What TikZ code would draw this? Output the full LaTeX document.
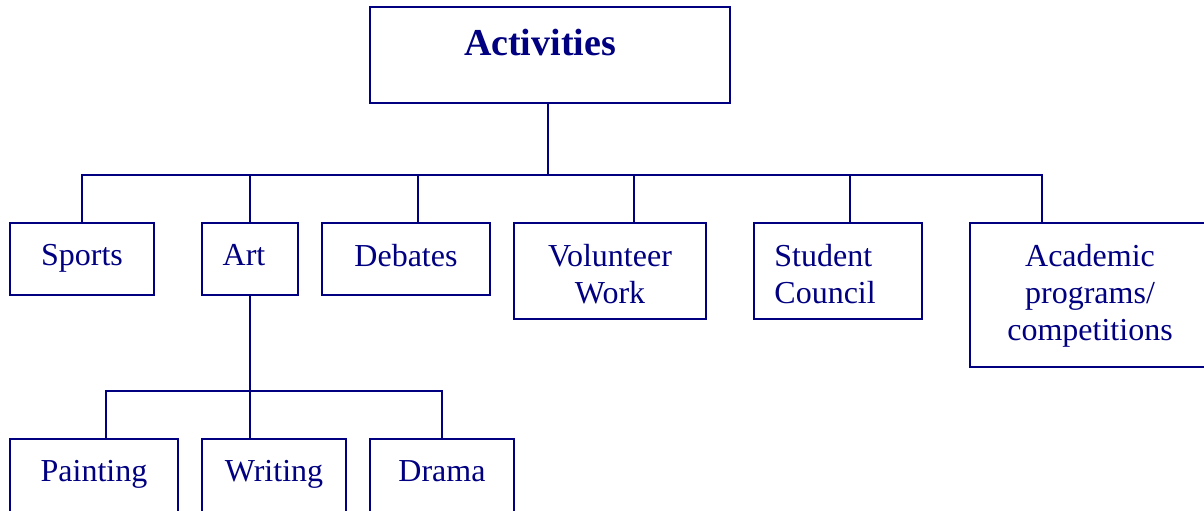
\documentclass[tikz,border=0pt]{standalone}
\usepackage{fontspec}
\setmainfont{Liberation Serif}
\usetikzlibrary{positioning}
\definecolor{navy}{RGB}{0,0,128}

\begin{document}
\begin{tikzpicture}[x=0.5pt, y=-0.5pt,
    box/.style={draw=navy, line width=1pt, inner sep=0pt},
    lbl/.style={text=navy, inner sep=0pt, align=center, font=\fontsize{16}{18.4}\selectfont},
    title/.style={text=navy, inner sep=0pt, font=\fontsize{19}{22}\selectfont\bfseries},
    link/.style={draw=navy, line width=1pt}]

    \useasboundingbox (0,0) rectangle (1204,510);
    \clip (0,0) rectangle (1204,510);

    % boxes
    \node[box, minimum width=180pt, minimum height=48pt] (act) at (550,55) {};
    \node[box, minimum width=72pt, minimum height=36pt] (sports) at (82,259) {};
    \node[box, minimum width=48pt, minimum height=36pt] (art) at (250,259) {};
    \node[box, minimum width=84pt, minimum height=36pt] (debates) at (406,259) {};
    \node[box, minimum width=96pt, minimum height=48pt] (volunteer) at (610,271) {};
    \node[box, minimum width=84pt, minimum height=48pt] (council) at (838,271) {};
    \node[box, minimum width=126pt, minimum height=72pt] (academic) at (1096,295) {};
    \node[box, minimum width=84pt, minimum height=37.5pt] (painting) at (94,476.5) {};
    \node[box, minimum width=72pt, minimum height=37.5pt] (writing) at (274,476.5) {};
    \node[box, minimum width=72pt, minimum height=37.5pt] (drama) at (442,476.5) {};

    % labels
    \node[title, below=11.5pt of act.north, xshift=-5pt] (actlbl) {Activities};
    \node[lbl, below=11pt of sports.north] (sportslbl) {Sports};
    \node[lbl, below=11pt of art.north, xshift=-3pt] (artlbl) {Art};
    \node[lbl, below=11pt of debates.north] (debateslbl) {Debates};
    \node[lbl, below=11pt of volunteer.north] (volunteerlbl) {Volunteer\\Work};
    \node[lbl, align=left, below right=11pt and 10.5pt of council.north west] (councillbl) {Student\\Council};
    \node[lbl, below=11pt of academic.north, xshift=-3pt] (academiclbl) {Academic\\programs/\\competitions};
    \node[lbl, below=11pt of painting.north] (paintinglbl) {Painting};
    \node[lbl, below=11pt of writing.north] (writinglbl) {Writing};
    \node[lbl, below=11pt of drama.north] (dramalbl) {Drama};

    % connectors
    \coordinate (bus) at (548,175);
    \coordinate (sub) at (250,391);
    \draw[link] ([xshift=-1pt]act.south) -- (bus);
    \draw[link] (bus) -| (sports.north);
    \draw[link] (bus) -| (art.north);
    \draw[link] (bus) -| ([xshift=6pt]debates.north);
    \draw[link] (bus) -| ([xshift=12pt]volunteer.north);
    \draw[link] (bus) -| ([xshift=6pt]council.north);
    \draw[link] (bus) -| ([xshift=-27pt]academic.north);

    \draw[link] (art.south) -- (sub);
    \draw[link] (sub) -| ([xshift=6pt]painting.north);
    \draw[link] (sub) -| ([xshift=-12pt]writing.north);
    \draw[link] (sub) -| (drama.north);

\end{tikzpicture}
\end{document}
